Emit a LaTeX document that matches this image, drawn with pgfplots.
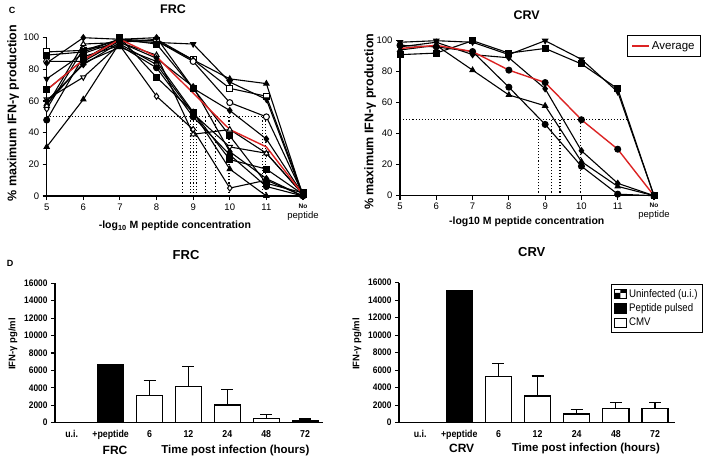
\documentclass[border=0pt]{standalone}
\usepackage{pgfplots}
\pgfplotsset{compat=1.18}
\usepackage{fontspec}
\setmainfont{Liberation Sans}
\newfontfamily\narrowfont[FakeStretch=0.88]{Liberation Sans}
\usetikzlibrary{patterns}
\definecolor{avgred}{RGB}{220,35,35}

\pgfplotsset{
  gp/.style={
    scale only axis, clip=false,
    axis x line*=bottom, axis y line*=left,
    axis line style={line width=1.4pt,-},
    tick style={black, line width=1.1pt},
    major tick length=4pt,
    tick align=outside,
    /pgf/number format/assume math mode=true,
  },
  ser/.style={black, line width=1.1pt, mark size=3pt},
  fsq/.style={ser, mark=square*, mark options={solid, line width=1pt, fill=black}},
  osq/.style={ser, mark=square*, mark options={solid, line width=1pt, fill=white}},
  fci/.style={ser, mark=*, mark options={solid, line width=1pt, fill=black}},
  oci/.style={ser, mark=*, mark options={solid, line width=1pt, fill=white}},
  ftu/.style={ser, mark=triangle*, mark options={solid, line width=1pt, fill=black}},
  otu/.style={ser, mark=triangle*, mark options={solid, line width=1pt, fill=white}},
  ftd/.style={ser, mark=triangle*, mark options={solid, line width=1pt, fill=black, rotate=180}},
  otd/.style={ser, mark=triangle*, mark options={solid, line width=1pt, fill=white, rotate=180}},
  fdi/.style={ser, mark=diamond*, mark options={solid, line width=1pt, fill=black}},
  odi/.style={ser, mark=diamond*, mark options={solid, line width=1pt, fill=white}},
  dotl/.style={black, line width=1.1pt, dash pattern=on 1.1pt off 2pt, mark=none, forget plot},
  cticks/.style={
    xtick={5,...,12},
    xticklabels={5,6,7,8,9,10,11,{\bfseries\fontsize{6.5}{7}\selectfont No\\peptide}},
    xticklabel style={align=center, font=\fontsize{9.5}{10}\selectfont},
    ytick={0,20,...,100},
    yticklabel style={font=\fontsize{9.5}{10}\selectfont},
    xmin=5, xmax=12, ymin=0, ymax=100,
  },
  dstyle/.style={
    ymin=0, ymax=16000, ytick={0,2000,...,16000}, scaled y ticks=false,
    yticklabel style={font=\narrowfont\bfseries\fontsize{9.5}{10}\selectfont, /pgf/number format/fixed, /pgf/number format/1000 sep={}},
    xtick={0,...,6}, xticklabels={u.i.,+peptide,6,12,24,48,72},
    xtick style={draw=none},
    xticklabel style={font=\narrowfont\bfseries\fontsize{10}{11}\selectfont},
    ybar, bar width=26pt, bar shift=0pt,
    ylabel={IFN-γ pg/ml},
    xlabel={Time post infection (hours)},
    xlabel style={font=\bfseries\fontsize{11.5}{13}\selectfont, anchor=center},
    ylabel style={font=\bfseries\fontsize{9.5}{11}\selectfont, anchor=center},
    title style={font=\bfseries\fontsize{13}{15}\selectfont, anchor=center},
  },
  errb/.style={error bars/.cd, y dir=plus, y explicit,
    error bar style={line width=1.2pt, black},
    error mark options={line width=1.2pt, mark size=6pt, black, rotate=90}},
}

\begin{document}
\begin{tikzpicture}
\useasboundingbox (0,0) rectangle (708pt,458pt);

\node[font=\bfseries\fontsize{9}{10}\selectfont] at (12pt,448pt) {C};
\node[font=\bfseries\fontsize{9}{10}\selectfont] at (10pt,195pt) {D};

% ---------------- C left: FRC ----------------
\begin{axis}[gp, cticks, at={(46.7pt,262pt)}, anchor=south west,
  width=256.3pt, height=158.3pt,
  title={FRC}, title style={at={(0.493,1.143)}, anchor=center, font=\bfseries\fontsize{12.5}{14}\selectfont},
  ylabel={\% maximum IFN-γ production},
  ylabel style={at={(rel axis cs:-0.131,0.524)}, anchor=center, font=\bfseries\fontsize{12.5}{14}\selectfont},
  xlabel={-log\textsubscript{10} M peptide concentration},
  xlabel style={at={(rel axis cs:0.5,-0.19)}, anchor=center, font=\bfseries\fontsize{10.5}{12}\selectfont},
]
\addplot[dotl] coordinates {(5,50) (11,50)};
\addplot[dotl] coordinates {(8.72,0) (8.72,50)};
\addplot[dotl] coordinates {(8.93,0) (8.93,50)};
\addplot[dotl] coordinates {(9.02,0) (9.02,50)};
\addplot[dotl] coordinates {(9.09,0) (9.09,50)};
\addplot[dotl] coordinates {(9.33,0) (9.33,50)};
\addplot[dotl] coordinates {(9.61,0) (9.61,50)};
\addplot[dotl] coordinates {(9.98,0) (9.98,50)};
\addplot[dotl] coordinates {(10.89,0) (10.89,50)};
\addplot[dotl] coordinates {(10.98,0) (10.98,50)};

\addplot[osq] coordinates {(5,91) (6,92) (7,99) (8,98) (9,86) (10,68) (11,63) (12,1)};
\addplot[ftu] coordinates {(5,31) (6,61) (7,97) (8,99) (9,86) (10,74) (11,71) (12,0)};
\addplot[ftd] coordinates {(5,74) (6,90) (7,98) (8,97) (9,96) (10,72) (11,61) (12,0)};
\addplot[oci] coordinates {(5,85) (6,85) (7,98) (8,98) (9,85) (10,59) (11,50) (12,1)};
\addplot[fdi] coordinates {(5,84) (6,100) (7,99) (8,100) (9,68) (10,54) (11,36) (12,1)};
\addplot[odi] coordinates {(5,55) (6,93) (7,95) (8,63) (9,42) (10,5) (11,10) (12,0)};
\addplot[otd] coordinates {(5,61) (6,75) (7,96) (8,83) (9,52) (10,31) (11,27) (12,1)};
\addplot[fsq] coordinates {(5,67) (6,86) (7,100) (8,75) (9,53) (10,23) (11,17) (12,1)};
\addplot[fci] coordinates {(5,48) (6,88) (7,95) (8,81) (9,50) (10,26) (11,6) (12,0)};
\addplot[ftu] coordinates {(5,58) (6,84) (7,94) (8,85) (9,53) (10,17) (11,0) (12,0)};
\addplot[otu] coordinates {(5,57) (6,96) (7,97) (8,89) (9,39) (10,42) (11,27) (12,1)};
\addplot[fsq] coordinates {(5,89) (6,91) (7,99) (8,96) (9,68) (10,38) (11,8) (12,2)};
\addplot[fdi] coordinates {(5,60) (6,83) (7,97) (8,87) (9,69) (10,28) (11,11) (12,0)};
\addplot[avgred, line width=1.4pt, mark=none] coordinates {(5,67) (6,86) (7,99) (8,88) (9,65) (10,42) (11,31) (12,1)};
\end{axis}

% ---------------- C right: CRV ----------------
\begin{axis}[gp, cticks, at={(400pt,262.3pt)}, anchor=south west,
  width=254pt, height=155pt,
  title={CRV}, title style={at={(0.499,1.127)}, anchor=center, font=\bfseries\fontsize{12.5}{14}\selectfont},
  ylabel={\% maximum IFN-γ production},
  ylabel style={at={(rel axis cs:-0.118,0.477)}, anchor=center, font=\bfseries\fontsize{12.5}{14}\selectfont},
  xlabel={-log10 M peptide concentration},
  xlabel style={at={(rel axis cs:0.499,-0.168)}, anchor=center, font=\bfseries\fontsize{10.5}{12}\selectfont},
  legend style={at={(1.185,1.037)}, anchor=north east, draw=black, line width=0.9pt,
    font=\fontsize{11.5}{13}\selectfont, inner xsep=4pt, inner ysep=4pt},
]
\addplot[dotl] coordinates {(5,49) (11.27,49)};
\addplot[dotl] coordinates {(8.81,0) (8.81,49)};
\addplot[dotl] coordinates {(9.17,0) (9.17,49)};
\addplot[dotl] coordinates {(9.41,0) (9.41,49)};
\addplot[dotl] coordinates {(9.98,0) (9.98,49)};

\addplot[ftd, forget plot] coordinates {(5,99) (6,100) (7,99) (8,91) (9,100) (10,88) (11,67) (12,0)};
\addplot[fsq, forget plot] coordinates {(5,91) (6,92) (7,100) (8,92) (9,95) (10,85) (11,69) (12,0)};
\addplot[fci, forget plot] coordinates {(5,97) (6,96) (7,93) (8,70) (9,46) (10,19) (11,1) (12,0)};
\addplot[ftu, forget plot] coordinates {(5,94) (6,97) (7,81) (8,65) (9,58) (10,22) (11,6) (12,0)};
\addplot[fdi, forget plot] coordinates {(5,96) (6,99) (7,91) (8,89) (9,69) (10,29) (11,8) (12,0)};
\addplot[avgred, line width=1.4pt, mark=none] coordinates {(5,95) (6,97) (7,93) (8,81) (9,73) (10,49) (11,30) (12,0)};
\addlegendentry{Average}
\addplot[fci, only marks, forget plot] coordinates {(8,81) (9,73) (10,49) (11,30)};
\end{axis}

% ---------------- D left: FRC ----------------
\begin{axis}[gp, dstyle, at={(55pt,35.3pt)}, anchor=south west,
  width=268pt, height=139.4pt, xmin=-0.43, xmax=6.46,
  title={FRC}, title style={at={(0.489,1.16)}},
  ylabel style={at={(rel axis cs:-0.157,0.565)}},
  xlabel style={at={(rel axis cs:0.673,-0.196)}},
]
\addplot[draw=black, line width=1.2pt, pattern=checkerboard] coordinates {(0,0)};
\addplot[draw=black, fill=black, line width=1.2pt] coordinates {(1,6650)};
\addplot[draw=black, fill=white, line width=1.2pt, errb] coordinates {
  (2,3100) +- (0,1750)
  (3,4150) +- (0,2280)
  (4,2030) +- (0,1800)
  (5,500) +- (0,460)
  (6,190) +- (0,230)
};
\node[font=\bfseries\fontsize{12}{14}\selectfont] at (rel axis cs:0.224,-0.196) {FRC};
\end{axis}

% ---------------- D right: CRV ----------------
\begin{axis}[gp, dstyle, at={(399pt,35.3pt)}, anchor=south west,
  width=276pt, height=140pt, xmin=-0.54, xmax=6.51,
  title={CRV}, title style={at={(0.481,1.174)}},
  ylabel style={at={(rel axis cs:-0.152,0.562)}},
  xlabel style={at={(rel axis cs:0.677,-0.183)}},
  legend style={at={(1.101,0.991)}, anchor=north east, draw=black, line width=0.8pt,
    font=\narrowfont\fontsize{11}{12}\selectfont, row sep=1pt, inner xsep=3pt, inner ysep=3pt},
  legend cell align=left,
  legend image code/.code={\draw[#1] (0pt,-4.5pt) rectangle (12pt,4.5pt);},
]
\addplot[draw=black, line width=1.2pt, pattern=checkerboard] coordinates {(0,0)};
\addlegendentry{Uninfected (u.i.)}
\addplot[draw=black, fill=black, line width=1.2pt] coordinates {(1,15090)};
\addlegendentry{Peptide pulsed}
\addplot[draw=black, fill=white, line width=1.2pt, errb] coordinates {
  (2,5260) +- (0,1520)
  (3,3050) +- (0,2280)
  (4,990) +- (0,560)
  (5,1640) +- (0,650)
  (6,1640) +- (0,650)
};
\addlegendentry{CMV}
\node[font=\bfseries\fontsize{12}{14}\selectfont] at (rel axis cs:0.227,-0.183) {CRV};
\end{axis}
\end{tikzpicture}
\end{document}
